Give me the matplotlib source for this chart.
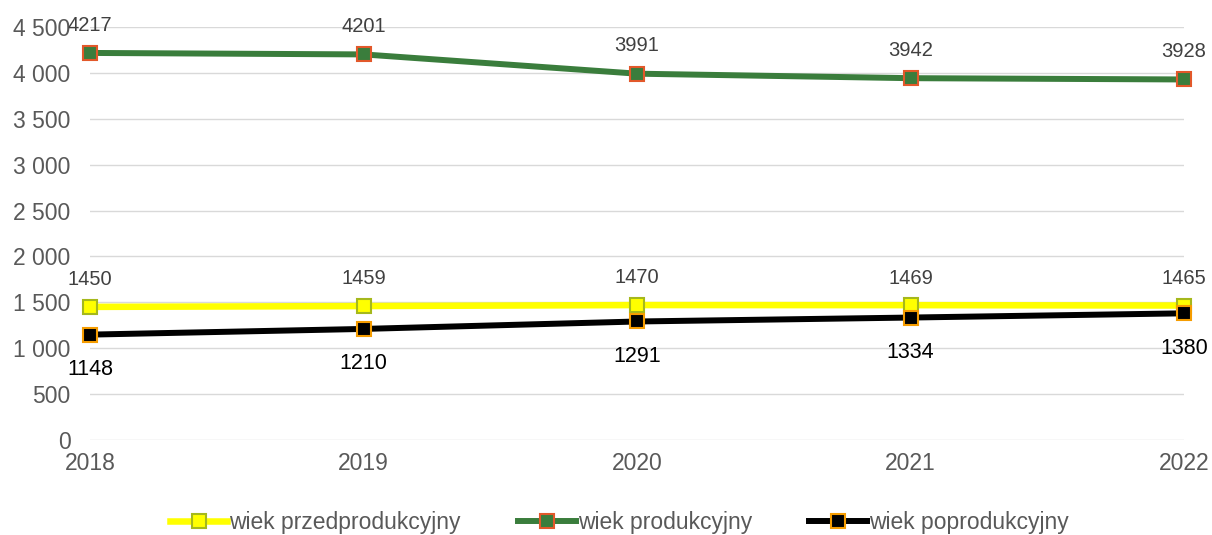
import matplotlib.pyplot as plt
import numpy as np

plt.rc('font', **{'family': 'Liberation Sans'})

years = [2018, 2019, 2020, 2021, 2022]
przed = [1450, 1459, 1470, 1469, 1465]
prod = [4217, 4201, 3991, 3942, 3928]
poprod = [1148, 1210, 1291, 1334, 1380]
yticks = np.arange(0, 4501, 500)

fig = plt.figure(figsize=(12.12, 5.35), dpi=100)
ax = fig.add_axes([0.0743, 0.1776, 0.9026, 0.772])

ax.plot(years, przed, color='#ffff00', lw=4.7, marker='s', ms=9.5,
        mfc='#ffff00', mec='#a5b81c', mew=1.5, clip_on=False, zorder=3,
        label='wiek przedprodukcyjny')
ax.plot(years, prod, color='#3a7d3c', lw=4.3, marker='s', ms=9.5,
        mfc='#3a7d3c', mec='#e2582a', mew=1.5, clip_on=False, zorder=3,
        label='wiek produkcyjny')
ax.plot(years, poprod, color='#000000', lw=4.3, marker='s', ms=9.5,
        mfc='#000000', mec='#f59c00', mew=1.5, clip_on=False, zorder=4,
        label='wiek poprodukcyjny')

for x, v in zip(years, prod):
    ax.annotate(str(v), (x, v), xytext=(0, 20), textcoords='offset points',
                ha='center', va='center', fontsize=14.5, color='#404040')
for x, v in zip(years, przed):
    ax.annotate(str(v), (x, v), xytext=(0, 19.5), textcoords='offset points',
                ha='center', va='center', fontsize=14.5, color='#404040')
for x, v in zip(years, poprod):
    ax.annotate(str(v), (x, v), xytext=(0, -25), textcoords='offset points',
                ha='center', va='center', fontsize=15.5, color='#000000')

ax.set_xlim(2018, 2022)
ax.set_ylim(0, 4500)
ax.set_xticks(years)
ax.set_yticks(yticks)
ax.set_yticklabels([f'{v:,}'.replace(',', ' ') for v in yticks])
ax.tick_params(length=0, labelsize=16.5, labelcolor='#595959')
ax.tick_params(axis='y', pad=14)
ax.tick_params(axis='x', pad=9)
ax.grid(axis='y', color='#d9d9d9', lw=1)
ax.set_axisbelow(True)
for s in ax.spines.values():
    s.set_visible(False)

fig.legend(loc='center', bbox_to_anchor=(0.511, 0.024), ncol=3, frameon=False,
           fontsize=16.5, labelcolor='#595959', handlelength=2.5,
           handletextpad=0.1, columnspacing=2.5)
fig.savefig('out.png', dpi=100)
